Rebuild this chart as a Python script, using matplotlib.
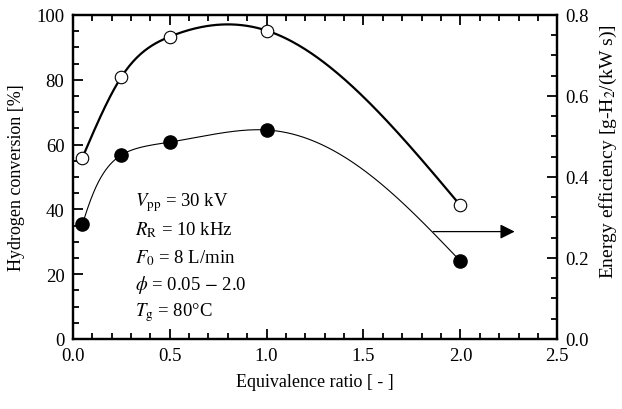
import numpy as np
import matplotlib
matplotlib.use("Agg")
import matplotlib.pyplot as plt
from matplotlib.ticker import MultipleLocator, FormatStrFormatter

plt.rcParams["font.family"] = ["Liberation Serif", "DejaVu Serif"]
plt.rcParams["mathtext.fontset"] = "stix"

# ── data ────────────────────────────────────────────────────
phi = [0.05, 0.25, 0.5, 1.0, 2.0]
h2_conversion = [56.0, 80.8, 93.3, 95.2, 41.2]          # [%], left axis
energy_eff = [0.284, 0.454, 0.486, 0.516, 0.192]       # [g-H2/(kW s)], right axis

conditions = [
    r"$V_{\rm pp}$ = 30 kV",
    r"$R_{\rm R}$ = 10 kHz",
    r"$F_0$ = 8 L/min",
    r"$\phi$ = 0.05 $-$ 2.0",
    r"$T_{\rm g}$ = 80°C",
]


def natural_spline(t, y, ts):
    # natural cubic spline through (t, y), evaluated at ts
    t = np.asarray(t, float)
    y = np.asarray(y, float)
    k = len(t)
    h = np.diff(t)
    A = np.zeros((k, k))
    b = np.zeros(k)
    A[0, 0] = A[-1, -1] = 1.0
    for i in range(1, k - 1):
        A[i, i - 1] = h[i - 1]
        A[i, i] = 2 * (h[i - 1] + h[i])
        A[i, i + 1] = h[i]
        b[i] = 6 * ((y[i + 1] - y[i]) / h[i] - (y[i] - y[i - 1]) / h[i - 1])
    m = np.linalg.solve(A, b)
    idx = np.clip(np.searchsorted(t, ts) - 1, 0, k - 2)
    t0, t1 = t[idx], t[idx + 1]
    hh = t1 - t0
    a, c = t1 - ts, ts - t0
    return (m[idx] * a**3 + m[idx + 1] * c**3) / (6 * hh) \
        + (y[idx] / hh - m[idx] * hh / 6) * a \
        + (y[idx + 1] / hh - m[idx + 1] * hh / 6) * c


def chord_spline(x, y, sx, sy, n=400):
    # parametric (chord-length) spline, lengths measured in screen-ish units
    px = np.asarray(x, float) * sx
    py = np.asarray(y, float) * sy
    t = np.concatenate([[0], np.cumsum(np.hypot(np.diff(px), np.diff(py)))])
    ts = np.linspace(0, t[-1], n)
    return natural_spline(t, px, ts) / sx, natural_spline(t, py, ts) / sy


fig = plt.figure(figsize=(6.22, 4.10), dpi=100)
ax = fig.add_axes([0.117, 0.171, 0.779, 0.790])
ax2 = ax.twinx()

# hydrogen conversion (open circles, thick line)
xs = np.linspace(phi[0], phi[-1], 300)
ax.plot(xs, natural_spline(phi, h2_conversion, xs), color="black", lw=1.6, zorder=2)
ax.plot(phi, h2_conversion, "o", ms=9, mfc="white", mec="black", mew=0.8, zorder=3)

# energy efficiency (filled circles, thin line)
xs, ys = chord_spline(phi, energy_eff, 194.5, 405.0)
ax2.plot(xs, ys, color="black", lw=0.8, zorder=2)
ax2.plot(phi, energy_eff, "o", ms=9.5, color="black", zorder=3)

ax2.annotate("", xy=(2.28, 0.265), xytext=(1.86, 0.265),
             arrowprops=dict(arrowstyle="-|>", color="black", lw=0.9,
                             mutation_scale=22, shrinkA=0, shrinkB=0))

# conditions text block
for i, txt in enumerate(conditions):
    ax.text(0.32, 42.3 - i * 8.5, txt, fontsize=13.5, va="center", ha="left")

ax.set_xlim(0, 2.5)
ax.set_ylim(0, 100)
ax2.set_ylim(0, 0.8)

ax.xaxis.set_major_locator(MultipleLocator(0.5))
ax.xaxis.set_minor_locator(MultipleLocator(0.1))
ax.xaxis.set_major_formatter(FormatStrFormatter("%.1f"))
ax.yaxis.set_major_locator(MultipleLocator(20))
ax.yaxis.set_minor_locator(MultipleLocator(5))
ax2.yaxis.set_major_locator(MultipleLocator(0.2))
ax2.yaxis.set_minor_locator(MultipleLocator(0.05))
ax2.yaxis.set_major_formatter(FormatStrFormatter("%.1f"))

ax.tick_params(axis="x", which="both", direction="in", top=True)
ax.tick_params(axis="y", which="both", direction="in", right=False)
ax.tick_params(which="major", length=7, width=1.3, labelsize=13.5, pad=6)
ax.tick_params(which="minor", length=4, width=1.3)
ax2.tick_params(which="both", direction="in")
ax2.tick_params(which="major", length=7, width=1.3, labelsize=13.5, pad=6)
ax2.tick_params(which="minor", length=4, width=1.3)

for a in (ax, ax2):
    for s in a.spines.values():
        s.set_linewidth(1.6)

ax.set_xlabel("Equivalence ratio [ - ]", fontsize=13, labelpad=6)
ax.set_ylabel("Hydrogen conversion [%]", fontsize=13, labelpad=8)
ax2.set_ylabel(r"Energy efficiency [g-H$_2$/(kW s)]", fontsize=14,
               rotation=90, va="center", ha="center")
ax2.yaxis.set_label_coords(1.105, 0.58)

fig.savefig("out.png", dpi=100)
